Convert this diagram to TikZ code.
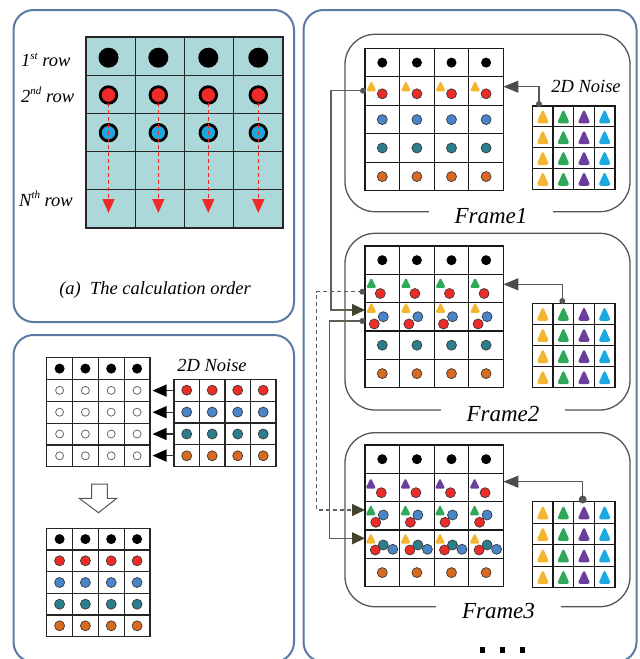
\documentclass[tikz,border=0pt]{standalone}
\usepackage{fontspec}
\setmainfont{Liberation Serif}
\usetikzlibrary{arrows.meta}
\definecolor{panelblue}{HTML}{5B7BA5}
\definecolor{tealbg}{HTML}{ADD8DA}
\definecolor{dotred}{HTML}{EE2B26}
\definecolor{dotcyan}{HTML}{1EA7DF}
\definecolor{dotblue}{HTML}{4A85C9}
\definecolor{dotteal}{HTML}{2C7D8D}
\definecolor{dotorange}{HTML}{D9691F}
\definecolor{triyellow}{HTML}{F4B52F}
\definecolor{trigreen}{HTML}{2FA85A}
\definecolor{tripurple}{HTML}{6A3E9C}
\definecolor{tricyan}{HTML}{1BA9E1}
\definecolor{framegray}{HTML}{555555}
\definecolor{conncol}{HTML}{5F5F52}
\definecolor{arrowolive}{HTML}{45452F}
\definecolor{dborder}{HTML}{3A3A3A}
\newcommand\sups[1]{\raisebox{0.42em}{\fontsize{11}{12}\selectfont #1}}
\newcommand\mygrid[6]{%
  \draw (#1,#2) rectangle (#3,#4);
  \pgfmathtruncatemacro\myNc{#5-1}%
  \pgfmathtruncatemacro\myNr{#6-1}%
  \foreach \i in {1,...,\myNc}{\draw ({#1+\i*(#3-#1)/#5},#2) -- ({#1+\i*(#3-#1)/#5},#4);}
  \foreach \j in {1,...,\myNr}{\draw (#1,{#2+\j*(#4-#2)/#6}) -- (#3,{#2+\j*(#4-#2)/#6});}
}
% triangle: colour, x, y (centre), size
\newcommand\ftri[4]{\fill[#1, rounded corners=1.6pt] ({#2-#4/2},{#3+#4/2}) -- ({#2},{#3-#4/2}) -- ({#2+#4/2},{#3+#4/2}) -- cycle;}
\newcommand\ntri[3]{\fill[#1, rounded corners=3pt] ({#2-6.5},{#3+7}) -- ({#2},{#3-7.5}) -- ({#2+6.5},{#3+7}) -- cycle;}
\begin{document}
\begin{tikzpicture}[x=1pt,y=-1pt,
  panel/.style={draw=panelblue, line width=2pt, rounded corners=20pt},
  framebox/.style={draw=framegray, line width=1.3pt, rounded corners=30pt},
  lbl/.style={font=\itshape\fontsize{18.5}{22}\selectfont, inner sep=0pt},
  framelbl/.style={font=\itshape\fontsize{23}{27}\selectfont, fill=white, inner xsep=26pt, inner ysep=2pt, anchor=base},
  bdot/.style={fill=black},
  cdot/.style={draw=dborder, line width=0.7pt},
  conn/.style={draw=conncol, line width=1.2pt, -{Triangle[length=13pt,width=12pt,color=arrowolive]}},
  noisearrow/.style={draw=gray!70!black, line width=1.1pt, -{Triangle[length=15pt,width=12pt,color=black!70]}},
  reddash/.style={draw=dotred, line width=1.5pt, dash pattern=on 4pt off 3pt, -{Triangle[length=14pt,width=12pt]}},
  blkarrow/.style={draw=black!80, line width=1.2pt, -{Triangle[length=14pt,width=12pt,color=black]}},
  srcdot/.style={fill=framegray}]
\useasboundingbox (0,0) rectangle (640,659);
\fill[white] (0,0) rectangle (640,659);

% ---------------- panels
\draw[panel] (13.5,10) rectangle (294,322);
\draw[panel] (13.5,335) rectangle (294,662);
\draw[panel] (303.5,10) rectangle (636.5,662);

% ---------------- panel (a)
\fill[tealbg] (86,37) rectangle (283,228);
\begin{scope}[draw=black!85, line width=1.2pt]
\mygrid{86}{37}{283}{228}{4}{5}
\end{scope}
\foreach \cx in {108.5,158.3,208.3,258.3}{
  \fill[bdot] (\cx,57.7) circle[radius=10];
  \filldraw[fill=dotred, draw=black, line width=2.8pt] (\cx,95) circle[radius=8.3];
  \filldraw[fill=dotcyan, draw=black, line width=2.8pt] (\cx,132.7) circle[radius=8.3];
  \draw[reddash] (\cx,103) -- (\cx,213);
}
\node[lbl, anchor=west] (r1) at (21,60) {1\sups{st} row};
\node[lbl, anchor=west] (r2) at (21,95) {2\sups{nd} row};
\node[lbl, anchor=west] (rn) at (19,199) {N\sups{th} row};
\node[lbl] (capa) at (155,290) {(a)\ \ The calculation order};

% ---------------- bottom-left panel
\begin{scope}[draw=black!85, line width=1.2pt]
\mygrid{46.7}{357.7}{150}{466.7}{4}{5}
\mygrid{174}{379.3}{276}{466.7}{4}{4}
\mygrid{46.7}{528.3}{150}{636.7}{4}{5}
\end{scope}
\foreach \cx in {59.6,85.4,111.2,137.1}{
  \fill[bdot] (\cx,368.6) circle[radius=5];
  \foreach \cy in {390.4,412.2,434,455.8}{
    \draw[draw=black!60, line width=0.8pt] (\cx,\cy) circle[radius=4];
  }
  \fill[bdot] (\cx,539.1) circle[radius=5];
  \filldraw[cdot, fill=dotred] (\cx,560.8) circle[radius=5];
  \filldraw[cdot, fill=dotblue] (\cx,582.5) circle[radius=5];
  \filldraw[cdot, fill=dotteal] (\cx,604.2) circle[radius=5];
  \filldraw[cdot, fill=dotorange] (\cx,625.8) circle[radius=5];
}
\foreach \cx in {186.7,212.2,237.7,263.2}{
  \filldraw[cdot, fill=dotred] (\cx,390.2) circle[radius=5];
  \filldraw[cdot, fill=dotblue] (\cx,412.1) circle[radius=5];
  \filldraw[cdot, fill=dotteal] (\cx,434) circle[radius=5];
  \filldraw[cdot, fill=dotorange] (\cx,455.8) circle[radius=5];
}
\node[lbl] (noiseL) at (212,365) {2D Noise};
\foreach \k/\cy in {1/390.6,2/412.2,3/434,4/455.6}{
  \coordinate (nL\k) at (174,\cy);
  \coordinate (gL\k) at (152.5,\cy);
  \draw[blkarrow] (nL\k) -- (gL\k);
}
\draw[draw=framegray, fill=white, line width=1pt]
  (91.7,484) -- (107.3,484) -- (107.3,498.3) -- (116.7,498.3) -- (98.5,512.7)
  -- (79.3,498.3) -- (91.7,498.3) -- cycle;

% ---------------- right panel: frames
\draw[framebox] (345,34.3) rectangle (630,211.7);
\draw[framebox] (345,233.3) rectangle (630,410);
\draw[framebox] (345,432.7) rectangle (630,606.7);
\node[framelbl] (fr1) at (491,223.4) {Frame1};
\node[framelbl] (fr2) at (503,421.7) {Frame2};
\node[framelbl] (fr3) at (498.5,618.4) {Frame3};
\node[lbl] (noiseR) at (586,86) {2D Noise};

\begin{scope}[draw=black!90, line width=1.3pt]
\mygrid{365}{48.3}{503.4}{190.8}{4}{5}
\mygrid{365}{246}{503.4}{387.75}{4}{5}
\mygrid{365}{445}{503.4}{586.75}{4}{5}
\mygrid{532.5}{106}{614.9}{189.2}{4}{4}
\mygrid{532.5}{303.3}{614.9}{387.7}{4}{4}
\mygrid{532.5}{501.7}{614.9}{587.7}{4}{4}
\end{scope}

% noise triangles
\foreach \cy in {116.4,137.2,158,178.8,313.85,334.95,356.05,377.15,512.45,533.95,555.45,576.95}{
  \ntri{triyellow}{542.8}{\cy}
  \ntri{trigreen}{563.4}{\cy}
  \ntri{tripurple}{584}{\cy}
  \ntri{tricyan}{604.6}{\cy}
}

\foreach \cx in {382.3,416.9,451.5,486.1}{
  % frame 1
  \fill[bdot] (\cx,62.6) circle[radius=5];
  \ftri{triyellow}{\cx-11}{86}{10.5}
  \filldraw[cdot, fill=dotred] (\cx,93.8) circle[radius=5];
  \filldraw[cdot, fill=dotblue] (\cx,119.6) circle[radius=5];
  \filldraw[cdot, fill=dotteal] (\cx,148) circle[radius=5];
  \filldraw[cdot, fill=dotorange] (\cx,176.6) circle[radius=5];
  % frame 2
  \fill[bdot] (\cx,260.2) circle[radius=5];
  \ftri{trigreen}{\cx-11}{282.7}{10.5}
  \filldraw[cdot, fill=dotred] (\cx-2,293.5) circle[radius=5];
  \ftri{triyellow}{\cx-11}{307.5}{10.5}
  \filldraw[cdot, fill=dotblue] (\cx+1,316.7) circle[radius=5];
  \filldraw[cdot, fill=dotred] (\cx-8,324) circle[radius=5];
  \filldraw[cdot, fill=dotteal] (\cx,345.2) circle[radius=5];
  \filldraw[cdot, fill=dotorange] (\cx,373.6) circle[radius=5];
  % frame 3
  \fill[bdot] (\cx,459.2) circle[radius=5];
  \ftri{tripurple}{\cx-11.5}{483.3}{10.5}
  \filldraw[cdot, fill=dotred] (\cx-1,492.7) circle[radius=5];
  \ftri{trigreen}{\cx-11.5}{510}{10.5}
  \filldraw[cdot, fill=dotblue] (\cx+1,515) circle[radius=5];
  \filldraw[cdot, fill=dotred] (\cx-6.5,522.3) circle[radius=5];
  \ftri{triyellow}{\cx-11.5}{538.3}{10.5}
  \filldraw[cdot, fill=dotteal] (\cx+1,545) circle[radius=5];
  \filldraw[cdot, fill=dotblue] (\cx+10.5,549.3) circle[radius=5];
  \filldraw[cdot, fill=dotred] (\cx-7,550) circle[radius=5];
  \filldraw[cdot, fill=dotorange] (\cx,572.6) circle[radius=5];
}

% ---------------- noise -> grid arrows
\coordinate (n1top) at (539,104);
\coordinate (f1r2) at (503.4,86.7);
\coordinate (n2top) at (562.3,301);
\coordinate (f2r2) at (503.4,284.3);
\coordinate (n3top) at (582.7,499.5);
\coordinate (f3r2) at (503.4,481.7);
\draw[noisearrow] (n1top) |- (f1r2);
\draw[noisearrow] (n2top) |- (f2r2);
\draw[noisearrow] (n3top) |- (f3r2);
\fill[srcdot] (n1top) circle[radius=3];
\fill[srcdot] (n2top) circle[radius=3];
\fill[srcdot] (n3top) circle[radius=4];

% ---------------- frame-to-frame connectors
\coordinate (busA) at (331,0);
\coordinate (busB) at (316.7,0);
\coordinate (busC) at (329.3,0);
\coordinate (f1out) at (363,90.7);
\coordinate (f2in) at (365,310);
\coordinate (f2outA) at (362.3,291.7);
\coordinate (f3inA) at (365,510);
\coordinate (f2outB) at (362.3,321);
\coordinate (f3inB) at (365,538.3);
\draw[conn] (f1out) -- (f1out -| busA) |- (f2in);
\draw[conn, dash pattern=on 4pt off 3pt] (f2outA) -- (f2outA -| busB) |- (f3inA);
\draw[conn] (f2outB) -- (f2outB -| busC) |- (f3inB);
\fill[srcdot] (f1out) circle[radius=3];
\fill[srcdot] (f2outA) circle[radius=3];
\fill[srcdot] (f2outB) circle[radius=3];

% ---------------- ellipsis
\foreach \dx in {482.7,502.7,522.3}{
  \fill[black] (\dx-2.7,647.3) rectangle (\dx+2.7,652.7);
}
\end{tikzpicture}
\end{document}
